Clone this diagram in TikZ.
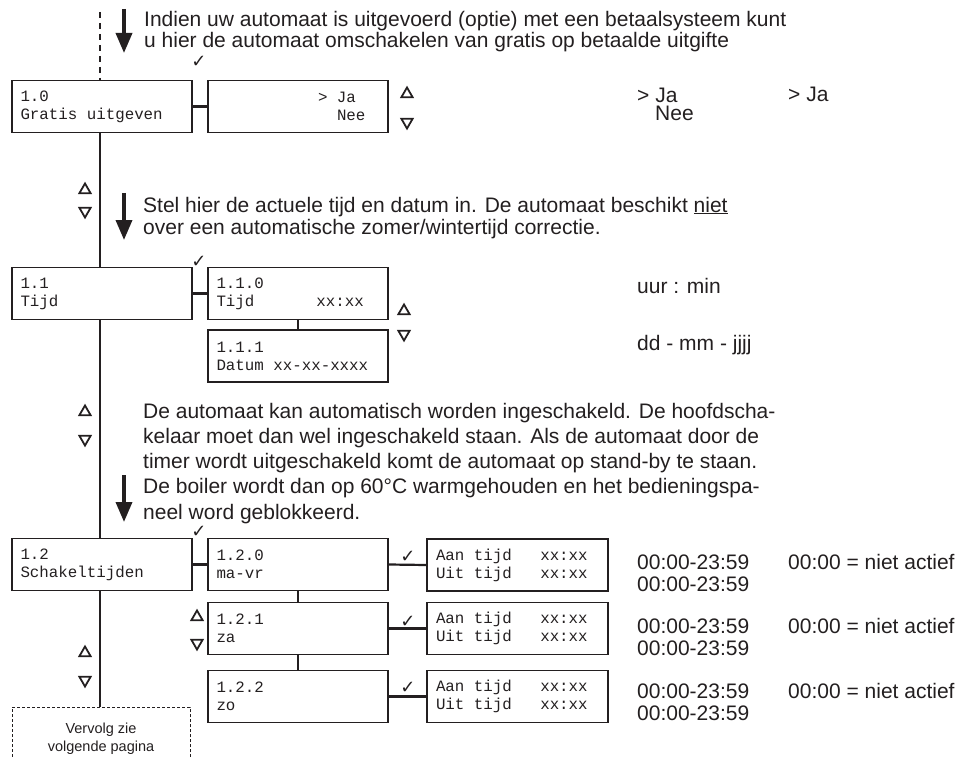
\documentclass[tikz,border=0pt]{standalone}
\usepackage{fontspec}
\setmainfont{Liberation Sans}
\newfontfamily\lcdfont{Liberation Mono}
\newfontfamily\symfont{DejaVu Sans}
\usetikzlibrary{arrows.meta,shapes.geometric}
\definecolor{ink}{HTML}{231F20}
\newcommand{\lsp}{\hspace*{9.48pt}}

\begin{document}
\begin{tikzpicture}[x=1pt,y=-1pt,
    every node/.style={text=ink},
    lcdbox/.style={draw=ink, line width=1.4pt, minimum width=180pt, minimum height=52pt,
      text width=163pt, inner xsep=8.5pt, inner ysep=0pt, align=left,
      font=\lcdfont\fontsize{15.8}{18}\selectfont},
    note/.style={anchor=base west, inner sep=0pt, align=left,
      font=\fontsize{21}{22}\selectfont},
    mainline/.style={draw=ink, line width=2.2pt},
    bigarrow/.style={draw=ink, line width=3.5pt, -{Triangle[width=16pt,length=20pt]}},
    tick/.style={inner sep=0pt, font=\symfont\fontsize{18}{18}\selectfont},
    triup/.style={regular polygon, regular polygon sides=3, draw=ink, line width=1.8pt,
      minimum size=13pt, inner sep=0pt},
    tridown/.style={triup, shape border rotate=180}]
  \useasboundingbox (0,0) rectangle (975,757);
  \clip (0,0) rectangle (975,757);

  % display boxes
  \node[lcdbox] (b10) at (102,106.5) {1.0\\Gratis\lsp uitgeven};
  \node[lcdbox] (b10s) at (298,106.5) {\hspace*{101.5pt}>\lsp Ja\\\hspace*{120.5pt}Nee};
  \node[lcdbox] (b11) at (102,293.5) {1.1\\Tijd};
  \node[lcdbox] (b110) at (298,293.5) {1.1.0\\Tijd\hspace*{62pt}xx:xx};
  \node[lcdbox] (b111) at (298,356) {1.1.1\\Datum\lsp xx-xx-xxxx};
  \node[lcdbox] (b12) at (102,564.5) {1.2\\Schakeltijden};
  \node[lcdbox] (b120) at (298,564.5) {1.2.0\\ma-vr};
  \node[lcdbox] (b121) at (298,628.5) {1.2.1\\za};
  \node[lcdbox] (b122) at (298,696.5) {1.2.2\\zo};
  \node[lcdbox, minimum width=181pt] (t120) at (517.5,565)
    {Aan\lsp tijd\lsp\lsp\lsp xx:xx\\Uit\lsp tijd\lsp\lsp\lsp xx:xx};
  \node[lcdbox, minimum width=181pt] (t121) at (517.5,628.5)
    {Aan\lsp tijd\lsp\lsp\lsp xx:xx\\Uit\lsp tijd\lsp\lsp\lsp xx:xx};
  \node[lcdbox, minimum width=181pt] (t122) at (517.5,696.5)
    {Aan\lsp tijd\lsp\lsp\lsp xx:xx\\Uit\lsp tijd\lsp\lsp\lsp xx:xx};
  \node[draw=ink, line width=0.8pt, dash pattern=on 3pt off 2pt, minimum width=178pt,
    minimum height=62pt, anchor=north, align=center,
    font=\fontsize{14.5}{18}\selectfont] (vervolg) at (101,707) {Vervolg zie\\volgende pagina};

  % main line
  \coordinate (top) at (100,12);
  \draw[draw=ink, line width=2pt, dash pattern=on 6pt off 5pt] (top) -- (top |- b10.north);
  \draw[mainline] (top |- b10.south) -- (top |- b11.north);
  \draw[mainline] (top |- b11.south) -- (top |- b12.north);
  \draw[mainline] (top |- b12.south) -- (top |- vervolg.north);

  \draw[mainline] (b10.east) -- (b10s.west);
  \draw[mainline] (b11.east) -- (b110.west);
  \draw[mainline] (b110.south) -- (b111.north);
  \draw[mainline] (b12.east) -- (b120.west);
  \draw[mainline] (b120.south) -- (b121.north);
  \draw[mainline] (b121.south) -- (b122.north);
  \draw[mainline] (b120.east) -- (t120.west);
  \draw[mainline] (b121.east) -- (t121.west);
  \draw[mainline] (b122.east) -- (t122.west);

  % big arrows
  \coordinate (a1s) at (124,9);
  \coordinate (a1e) at (124,53);
  \coordinate (a2s) at (124,193);
  \coordinate (a2e) at (124,240);
  \coordinate (a3s) at (124,475);
  \coordinate (a3e) at (124,522);
  \draw[bigarrow] (a1s) -- (a1e);
  \draw[bigarrow] (a2s) -- (a2e);
  \draw[bigarrow] (a3s) -- (a3e);

  % texts (base = last line)
  \node[note, font=\fontsize{21}{21}\selectfont] (txt0) at (144,48)
    {Indien uw automaat is uitgevoerd (optie) met een betaalsysteem kunt\\
     u hier de automaat omschakelen van gratis op betaalde uitgifte};
  \node[note] (txt1) at (143,234)
    {Stel hier de actuele tijd en datum in. De automaat beschikt \underline{niet}\\
     over een automatische zomer/wintertijd correctie.};
  \node[note, font=\fontsize{21}{25.2}\selectfont] (txt2) at (143,519)
    {De automaat kan automatisch worden ingeschakeld. De hoofdscha-\\
     kelaar moet dan wel ingeschakeld staan. Als de automaat door de\\
     timer wordt uitgeschakeld komt de automaat op stand-by te staan.\\
     De boiler wordt dan op 60°C warmgehouden en het bedieningspa-\\
     neel word geblokkeerd.};

  \node[note, font=\fontsize{21}{18}\selectfont] (ja0) at (637,120.5) {> Ja\\\hspace*{18pt}Nee};
  \node[note] (ja1) at (788,102) {> Ja};
  \node[note] (uur) at (637,293) {uur : min};
  \node[note] (dat) at (637,350) {dd - mm - jjjj};
  \node[note] (n0) at (637,591) {00:00-23:59\\00:00-23:59};
  \node[note] (n1) at (637,655) {00:00-23:59\\00:00-23:59};
  \node[note] (n2) at (637,720) {00:00-23:59\\00:00-23:59};
  \node[note] (na0) at (788,569) {00:00 = niet actief};
  \node[note] (na1) at (788,633) {00:00 = niet actief};
  \node[note] (na2) at (788,698) {00:00 = niet actief};

  % ticks
  \node[tick] (k0) at (199,62) {✓};
  \node[tick] (k1) at (199,262) {✓};
  \node[tick] (k2) at (199,532) {✓};
  \node[tick] (k3) at (408,557) {✓};
  \node[tick] (k4) at (408,622) {✓};
  \node[tick] (k5) at (408,688) {✓};

  % up / down keys
  \node[triup] (u0) at (407,94) {};
  \node[tridown] (d0) at (407,122) {};
  \node[triup] (u1) at (85,190) {};
  \node[tridown] (d1) at (85,211) {};
  \node[triup] (u2) at (404,311) {};
  \node[tridown] (d2) at (404,334) {};
  \node[triup] (u3) at (85,412) {};
  \node[tridown] (d3) at (85,439) {};
  \node[triup] (u4) at (197,617) {};
  \node[tridown] (d4) at (197,643) {};
  \node[triup] (u5) at (85,653) {};
  \node[tridown] (d5) at (85,680) {};
\end{tikzpicture}
\end{document}
